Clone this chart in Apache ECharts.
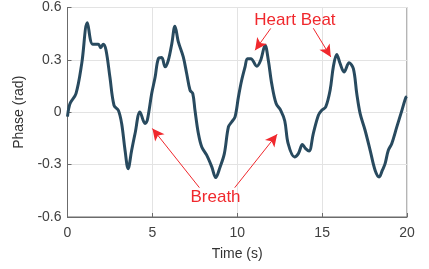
<!DOCTYPE html>
<html><head><meta charset="utf-8">
<script src="https://cdn.jsdelivr.net/npm/echarts@6/dist/echarts.min.js"></script>
<style>html,body{margin:0;padding:0;background:#fff}#c{width:429px;height:269px}</style>
</head><body><div id="c"></div>
<script>
var timeS = [0,0.15,0.5,0.84,1.17,1.48,1.82,1.95,2.11,2.27,2.5,2.74,3.0,3.19,3.39,3.57,3.78,3.98,4.27,4.57,4.7,4.96,5.16,5.35,5.55,5.75,5.94,6.14,6.33,6.53,6.82,7.02,7.22,7.38,7.51,7.71,7.91,8.2,8.5,8.73,8.99,9.24,9.48,9.67,9.87,10.07,10.26,10.46,10.6,10.8,11.15,11.38,11.64,11.83,12.03,12.29,12.56,12.8,13.0,13.37,13.6,13.84,14.03,14.23,14.48,14.78,14.98,15.21,15.47,15.66,15.86,16.06,16.29,16.59,16.84,17.04,17.24,17.53,17.83,18.12,18.36,18.55,18.71,18.9,19.1,19.4,19.7,19.93,20];
var phase = [-0.025,0.05,0.107,0.28,0.512,0.39,0.39,0.37,0.39,0.355,0.2,0.04,0.01,-0.065,-0.218,-0.323,-0.218,-0.122,0.002,-0.065,-0.046,0.107,0.2,0.307,0.313,0.26,0.298,0.39,0.493,0.403,0.317,0.222,0.126,0.107,0.011,-0.122,-0.199,-0.246,-0.313,-0.374,-0.313,-0.237,-0.084,-0.056,-0.027,0.088,0.183,0.26,0.307,0.307,0.264,0.298,0.384,0.298,0.164,0.05,0.011,-0.05,-0.18,-0.256,-0.237,-0.185,-0.208,-0.222,-0.122,-0.017,0.011,0.03,0.126,0.26,0.331,0.279,0.231,0.283,0.25,0.107,-0.008,-0.103,-0.218,-0.332,-0.371,-0.332,-0.294,-0.218,-0.18,-0.084,0.011,0.084,0.09];
var xTicks = [0,5,10,15,20];
var yTicks = [-0.6,-0.3,0,0.3,0.6];
// annotations in data coordinates
var annoTexts = [{text:'Heart Beat', t:13.4, v:0.528}, {text:'Breath', t:8.72, v:-0.49}];
var annoArrows = [
  [[11.97,0.48],[11.05,0.355]],
  [[14.48,0.481],[15.51,0.317]],
  [[7.77,-0.432],[5.0,-0.093]],
  [[9.85,-0.432],[12.35,-0.126]]
];

var red = '#f0282d';
var font = '"Liberation Sans", Arial, Helvetica, sans-serif';
var chart = echarts.init(document.getElementById('c'), null, {renderer:'canvas'});
var seriesData = timeS.map(function(t,i){return [t, phase[i]];});
chart.setOption({
  animation:false,
  backgroundColor:'#fff',
  grid:{left:67.5, top:7.5, right:22, bottom:52, show:true, borderColor:'#6b6b6b', borderWidth:1},
  xAxis:{type:'value', min:xTicks[0], max:xTicks[xTicks.length-1], interval:5,
    name:'Time (s)', nameLocation:'middle', nameGap:30,
    nameTextStyle:{fontFamily:font, fontSize:14, color:'#333'},
    axisLine:{show:true, onZero:false, lineStyle:{color:'#6b6b6b', width:1}},
    axisTick:{show:true, inside:true, length:4, lineStyle:{color:'#6b6b6b'}},
    axisLabel:{fontFamily:font, fontSize:14, color:'#404040', margin:9},
    splitLine:{show:true, lineStyle:{color:'#e3e3e3', width:1}}
  },
  yAxis:{type:'value', min:yTicks[0], max:yTicks[yTicks.length-1], interval:0.3,
    name:'Phase (rad)', nameLocation:'middle', nameGap:32,
    nameTextStyle:{fontFamily:font, fontSize:14, color:'#333'},
    axisLine:{show:true, onZero:false, lineStyle:{color:'#6b6b6b', width:1}},
    axisTick:{show:true, inside:true, length:4, lineStyle:{color:'#6b6b6b'}},
    axisLabel:{fontFamily:font, fontSize:14, color:'#404040', margin:6,
      formatter:function(v){var r=Math.round(v*10)/10; return r===0?'0':String(r);}},
    splitLine:{show:true, lineStyle:{color:'#e3e3e3', width:1}}
  },
  series:[
    {type:'line', data:seriesData, smooth:0.35, showSymbol:false, symbol:'none',
     lineStyle:{color:'#284a5f', width:3}, z:3,
     markLine:{silent:true, symbol:['none','arrow'], symbolSize:[9,12],
       lineStyle:{color:red, width:1, type:'solid'}, label:{show:false},
       data:annoArrows.map(function(a){return [{coord:a[0]},{coord:a[1]}];})
     },
     markPoint:{silent:true, symbol:'circle', symbolSize:0,
       data:annoTexts.map(function(a){return {coord:[a.t,a.v], value:a.text,
         label:{show:true, position:'inside', formatter:a.text, fontFamily:font, fontSize:17, color:red}};})
     }
    }
  ]
});
</script></body></html>
